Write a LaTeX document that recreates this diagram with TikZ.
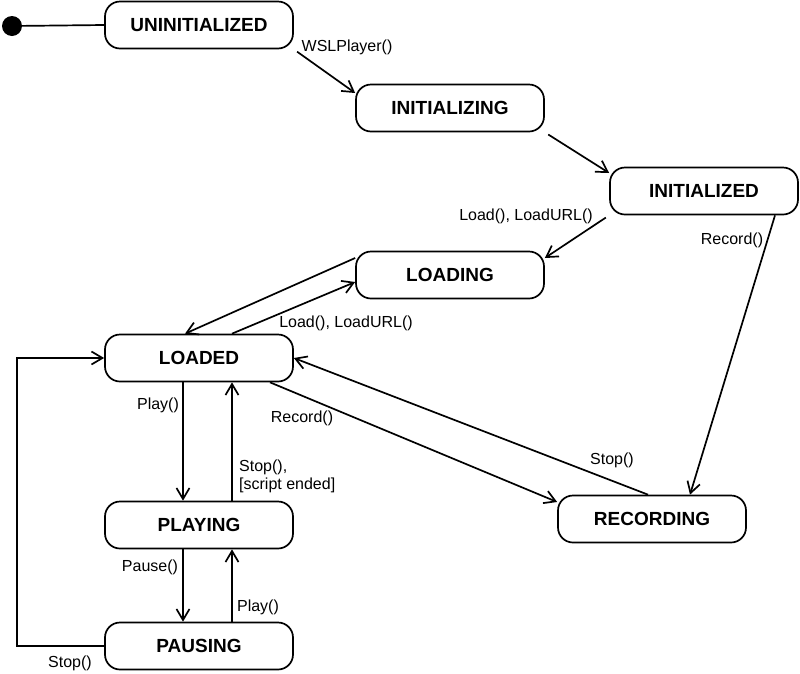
\documentclass[tikz,border=0pt]{standalone}
\usepackage{fontspec}
\setmainfont{Liberation Sans}
\usetikzlibrary{arrows.meta, positioning}

\begin{document}
\begin{tikzpicture}[x=1pt, y=-1pt]
        \tikzstyle{state} = [rectangle, rounded corners=15pt, draw, line width=1.7pt, minimum width=188pt, minimum height=47pt, inner sep=0pt, font=\fontsize{19}{22}\selectfont\bfseries]
        \tikzstyle{connect} = [-{Straight Barb[length=11pt, width=13pt]}, line width=1.7pt]
        \tikzstyle{lbl} = [inner sep=0pt, font=\fontsize{16}{18}\selectfont]
        \useasboundingbox (0,0) rectangle (800,673);
        % states
        \node[circle, fill, minimum size=20pt, inner sep=0pt] (start) at (12,26) {};
        \node[state] (uninit) at (199,25) {UNINITIALIZED};
        \node[state] (initing) at (450,108) {INITIALIZING};
        \node[state] (inited) at (704,191) {INITIALIZED};
        \node[state] (loading) at (450,275) {LOADING};
        \node[state] (loaded) at (199,358) {LOADED};
        \node[state] (playing) at (199,525) {PLAYING};
        \node[state] (pausing) at (199,646) {PAUSING};
        \node[state] (recording) at (652,519) {RECORDING};
        % labels
        \node[lbl] (lwsl) at (347,47) {WSLPlayer()};
        \node[lbl] (lloadA) at (526,216) {Load(), LoadURL()};
        \node[lbl] (lrecA) at (732,240) {Record()};
        \node[lbl] (lloadB) at (346,323) {Load(), LoadURL()};
        \node[lbl] (lplayA) at (158,405) {Play()};
        \node[lbl] (lrecB) at (302,418) {Record()};
        \node[lbl, align=left, anchor=west] (lstopA) at (239,476) {Stop(),\\{[script ended]}};
        \node[lbl] (lstopB) at (612,460) {Stop()};
        \node[lbl] (lpause) at (150,567) {Pause()};
        \node[lbl] (lplayB) at (258,607) {Play()};
        \node[lbl] (lstopC) at (70,663) {Stop()};
        % transitions
        \draw[line width=1.7pt] (start) -- (uninit.west);
        \path (uninit.south east) edge [connect, shorten <=4pt] ([yshift=15pt]initing.west)
              (initing.south east) edge [connect, shorten <=4pt] ([yshift=18pt]inited.west)
              (inited.south west) edge [connect, shorten <=4pt] ([yshift=17pt]loading.east)
              ([xshift=71pt]inited.south) edge [connect] ([xshift=38pt]recording.north)
              ([yshift=17pt]loading.west) edge [connect] ([xshift=-14pt]loaded.north)
              ([xshift=33pt]loaded.north) edge [connect] ([yshift=-7pt]loading.west)
              ([xshift=-16pt]loaded.south) edge [connect] ([xshift=-16pt]playing.north)
              ([xshift=33pt]playing.north) edge [connect] ([xshift=33pt]loaded.south)
              ([xshift=71pt]loaded.south) edge [connect] ([yshift=17pt]recording.west)
              ([xshift=-4pt]recording.north) edge [connect] (loaded.east)
              ([xshift=-16pt]playing.south) edge [connect] ([xshift=-16pt]pausing.north)
              ([xshift=33pt]pausing.north) edge [connect] ([xshift=33pt]playing.south);
        \draw[connect] (pausing.west) -- ++(-87,0) |- (loaded.west);
      \end{tikzpicture}
\end{document}
